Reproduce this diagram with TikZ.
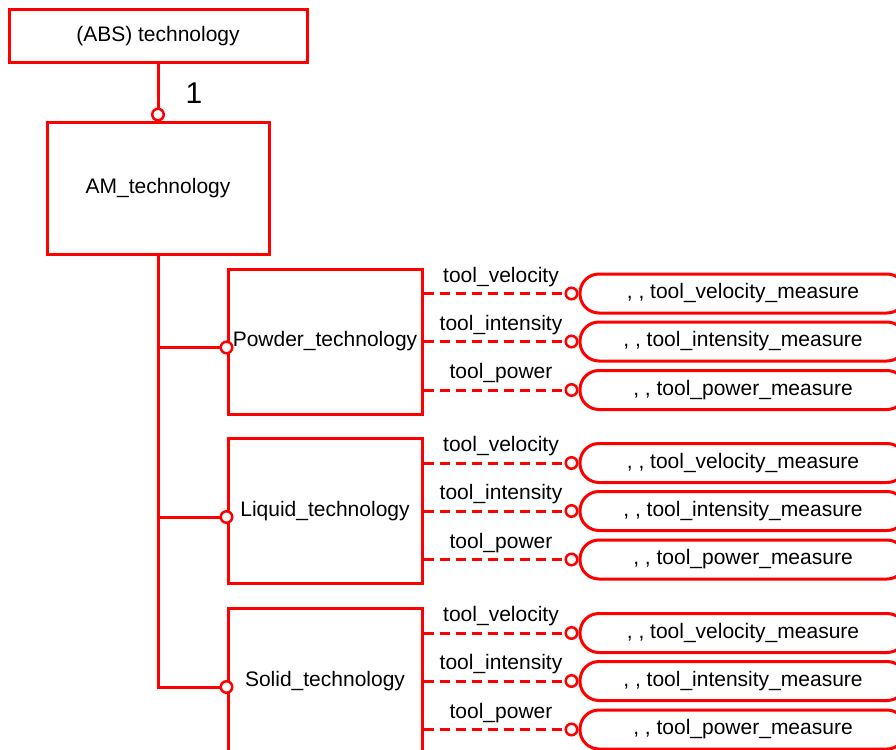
\documentclass[tikz,border=0pt]{standalone}
\usepackage{fontspec}
\setmainfont{Liberation Sans}
\usetikzlibrary{arrows.meta,positioning,calc}
\definecolor{ent}{HTML}{FF0000}
\tikzset{
  % entity boxes: red frame, plain text
  box/.style={draw=ent, line width=3pt, fill=white,
    font=\fontsize{21}{25}\selectfont, inner sep=0pt},
  tech/.style={box, minimum width=194pt, minimum height=145pt},
  meas/.style={box, rounded corners=19pt,
    minimum width=326pt, minimum height=39pt},
  link/.style={draw=ent, line width=3pt},
  attr/.style={link, dash pattern=on 10pt off 6pt},
  ball/.style={-{Circle[length=14pt, line width=2.5pt, fill=white]}},
  lbl/.style={font=\fontsize{21}{25}\selectfont, inner sep=2pt},
}
% #1 technology node, #2 y of its middle attribute row
\newcommand{\measures}[2]{%
  \foreach \a/\dy in {velocity/-48, intensity/0, power/48.5} {
    \node[meas] (#1-\a) at (743,#2+\dy) {, , tool\_\a\_measure};
    \draw[attr, ball] (#1.east |- #1-\a.west) --
      node[lbl, above=3.5pt, pos=.5] {tool\_\a} (#1-\a.west);
  }}

\begin{document}
\begin{tikzpicture}[x=1pt,y=-1pt]
\clip (0,0) rectangle (896,749);

% ----- top -----
\node[box, minimum width=298pt, minimum height=53pt] (abs) at (158,36.5) {(ABS) technology};
\node[box, minimum width=222pt, minimum height=131pt] (am) at (158,188.5) {AM\_technology};
\draw[link, ball] (abs) -- node[lbl, right=24pt, font=\fontsize{30}{36}\selectfont] {1} (am);

% ----- subtypes -----
\node[tech] (powder) at (325,341.5) {Powder\_technology};
\node[tech] (liquid) at (325,511) {Liquid\_technology};
\node[tech] (solid) at (325,681) {Solid\_technology};

\foreach \t in {powder, liquid, solid}
  \draw[link, ball, shorten >=-7pt] (am.south) |- ($(\t.west)+(0,6)$);

% ----- attributes -----
\measures{powder}{341.5}
\measures{liquid}{511}
\measures{solid}{681}

\end{tikzpicture}
\end{document}
